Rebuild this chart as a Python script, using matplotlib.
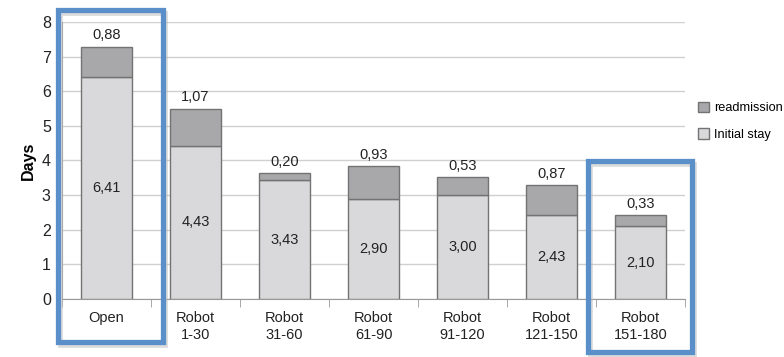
import matplotlib.pyplot as plt
from matplotlib.patches import Rectangle
import numpy as np

plt.rcParams['font.family'] = ['Liberation Sans', 'DejaVu Sans']

groups = ["Open", "Robot\n1-30", "Robot\n31-60", "Robot\n61-90", "Robot\n91-120", "Robot\n121-150", "Robot\n151-180"]
initial_stay = [6.41, 4.43, 3.43, 2.90, 3.00, 2.43, 2.10]
readmission = [0.88, 1.07, 0.20, 0.93, 0.53, 0.87, 0.33]

def fmt(v):
    return f"{v:.2f}".replace(".", ",")

fig = plt.figure(figsize=(7.84, 3.57), dpi=100)
ax = fig.add_axes([0.079, 0.1625, 0.795, 0.776])

x = np.arange(len(groups))
light = "#d9d9db"
dark = "#a8a8aa"
edge = "#737373"

b1 = ax.bar(x, initial_stay, width=0.57, color=light, edgecolor=edge, linewidth=1, label="Initial stay", zorder=3)
b2 = ax.bar(x, readmission, width=0.57, bottom=initial_stay, color=dark, edgecolor=edge, linewidth=1, label="readmission", zorder=3)

for i in range(len(groups)):
    ax.text(x[i], initial_stay[i] / 2, fmt(initial_stay[i]), ha="center", va="center", fontsize=10.5, color="#222222", zorder=4)
    ax.text(x[i], initial_stay[i] + readmission[i] + 0.12, fmt(readmission[i]), ha="center", va="bottom", fontsize=10.5, color="#222222", zorder=4)

ax.set_xlim(-0.5, len(groups) - 0.5)
ax.set_ylim(0, 8)
ax.set_yticks(range(9))
ax.yaxis.grid(True, color="#d0d0d0", linewidth=1, zorder=0)
ax.set_xticks(x)
ax.set_xticklabels(groups, fontsize=10.5, color="#222222", linespacing=1.25)
ax.set_xticks(np.arange(-0.5, len(groups)), minor=True)
ax.tick_params(axis="x", which="major", length=0, pad=9)
ax.tick_params(axis="x", which="minor", length=6, color="#999999")
ax.tick_params(axis="y", length=0, labelsize=11.5, colors="#222222", pad=8)

for s in ["top", "right"]:
    ax.spines[s].set_visible(False)
ax.spines["left"].set_color("#999999")
ax.spines["bottom"].set_color("#999999")

ax.set_ylabel("Days", fontsize=11.5, fontweight="bold", labelpad=4)

handles = [b2, b1]
leg = fig.legend(handles, ["readmission", "Initial stay"], loc="upper left", bbox_to_anchor=(0.879, 0.74),
                 frameon=False, fontsize=9.2, handlelength=0.85, handleheight=0.85, handletextpad=0.4,
                 labelspacing=1.1, borderpad=0.2)

# highlight boxes (figure pixels converted to fractions)
W, H = 784, 357
for (x0, y0, x1, y1) in [(58, 10, 163, 342), (588, 161, 692, 352)]:
    shadow = Rectangle((x0 / W + 0.003, 1 - (y1 + 3) / H), (x1 - x0) / W, (y1 - y0) / H,
                       transform=fig.transFigure, fill=False, edgecolor="#bbbbbb", linewidth=3.5, alpha=0.5, clip_on=False)
    fig.patches.append(shadow)
    box = Rectangle((x0 / W, 1 - y1 / H), (x1 - x0) / W, (y1 - y0) / H,
                    transform=fig.transFigure, fill=False, edgecolor="#5b8fc9", linewidth=3.8, clip_on=False)
    fig.patches.append(box)

fig.savefig("out.png", dpi=100)
